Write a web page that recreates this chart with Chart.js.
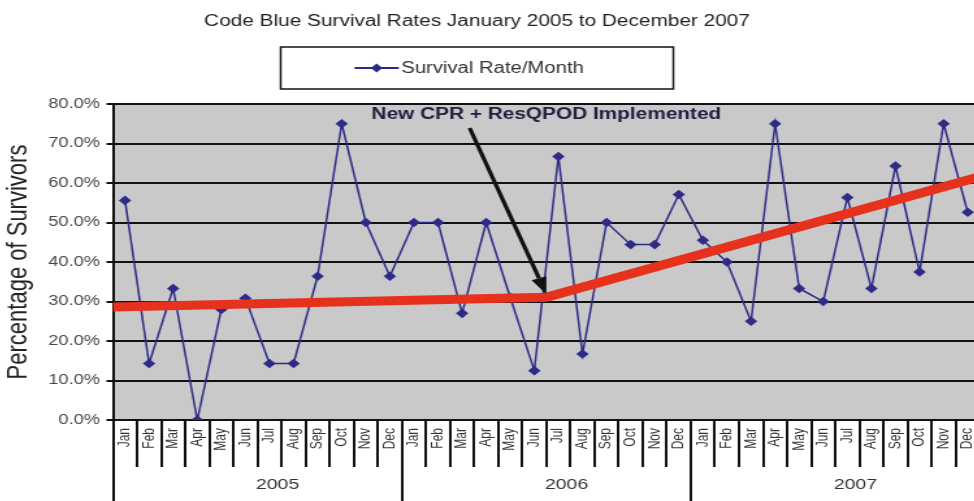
<!DOCTYPE html>
<html>
<head>
<meta charset="utf-8">
<title>Code Blue Survival Rates</title>
<script src="https://cdn.jsdelivr.net/npm/chart.js@4.4.1/dist/chart.umd.min.js"></script>
<style>
  html, body { margin: 0; padding: 0; background: #fff; overflow: hidden; }
  #wrap { position: relative; width: 974px; height: 501px; overflow: hidden; }
  #survivalChart { position: absolute; left: -32px; top: 0; }
</style>
</head>
<body>
<div id="wrap">
  <!-- drawing buffer is narrower than its box, so the chart is widened on screen -->
  <canvas id="survivalChart" width="783" height="501" style="width:1018px;height:501px"></canvas>
</div>
<script>
const monthNames = ['Jan', 'Feb', 'Mar', 'Apr', 'May', 'Jun', 'Jul', 'Aug', 'Sep', 'Oct', 'Nov', 'Dec'];
const years = ['2005', '2006', '2007'];

// monthly survival rate, %
const survival2005 = [55.6, 14.3, 33.3, 0.0, 28.0, 30.8, 14.3, 14.3, 36.4, 75.0, 50.0, 36.4];
const survival2006 = [50.0, 50.0, 27.0, 50.0, 31.0, 12.5, 66.7, 16.7, 50.0, 44.4, 44.4, 57.1];
const survival2007 = [45.5, 40.0, 25.0, 75.0, 33.3, 30.0, 56.3, 33.3, 64.3, 37.5, 75.0, 52.6];

// trend before / after the new protocol (x = month index)
const trendX = [-0.5, 17.5, 35.5];
const trendY = [28.6, 31.1, 61.6];

const yMin = 0, yMax = 80, yStep = 10;
const noteText = 'New CPR + ResQPOD Implemented';

const monthLabels = years.flatMap(() => monthNames);
const survival = [...survival2005, ...survival2006, ...survival2007];
const trend = trendX.map((x, i) => ({ x, y: trendY[i] }));

const NAVY = '#2e2b88';
const RED = '#e6321d';
const FONT = '"Liberation Sans", Arial, sans-serif';

Chart.defaults.font.family = FONT;

// grey plot background
const plotBackground = {
  id: 'plotBackground',
  beforeDraw(chart) {
    const { ctx, chartArea: a } = chart;
    ctx.save();
    ctx.fillStyle = '#c9c9c9';
    ctx.fillRect(a.left, a.top, a.right - a.left, a.bottom - a.top);
    ctx.restore();
  }
};

// boxed legend under the title
const legendBox = {
  id: 'legendBox',
  afterDraw(chart) {
    const ds = chart.data.datasets[0];
    const ctx = chart.ctx;
    const w = 302, h = 42, top = 47;
    const left = chart.width / 2 - w / 2;
    ctx.save();
    ctx.fillStyle = '#fff';
    ctx.fillRect(left, top, w, h);
    ctx.strokeStyle = '#111';
    ctx.lineWidth = 1.5;
    ctx.strokeRect(left, top, w, h);

    ctx.font = '15.6px ' + FONT;
    const textW = ctx.measureText(ds.label).width;
    const sample = 34, gap = 2;
    const x0 = chart.width / 2 - (sample + gap + textW) / 2 - 6;
    const cy = top + h / 2;
    ctx.strokeStyle = ds.borderColor;
    ctx.lineWidth = 2;
    ctx.beginPath();
    ctx.moveTo(x0, cy);
    ctx.lineTo(x0 + sample, cy);
    ctx.stroke();
    const mx = x0 + sample / 2, r = 4.5;
    ctx.fillStyle = ds.borderColor;
    ctx.beginPath();
    ctx.moveTo(mx, cy - r);
    ctx.lineTo(mx + r, cy);
    ctx.lineTo(mx, cy + r);
    ctx.lineTo(mx - r, cy);
    ctx.closePath();
    ctx.fill();
    ctx.fillStyle = '#333';
    ctx.textBaseline = 'middle';
    ctx.textAlign = 'left';
    ctx.fillText(ds.label, x0 + sample + gap, cy + 1);
    ctx.restore();
  }
};

// note + arrow pointing at the break in the trend line
const cprNote = {
  id: 'cprNote',
  afterDatasetsDraw(chart) {
    const { ctx, chartArea: a } = chart;
    const tipX = chart.scales.xTrend.getPixelForValue(trendX[1]);
    const tipY = chart.scales.y.getPixelForValue(trendY[1]) - 3;
    ctx.save();
    ctx.font = 'bold 16px ' + FONT;
    ctx.textAlign = 'center';
    ctx.textBaseline = 'middle';
    ctx.fillStyle = '#1d1f3f';
    ctx.fillText(noteText, tipX, a.top + 11);

    const sx = tipX - 59, sy = a.top + 24;
    const ang = Math.atan2(tipY - sy, tipX - sx);
    const head = 17, half = 6;
    const bx = tipX - head * Math.cos(ang), by = tipY - head * Math.sin(ang);
    ctx.strokeStyle = '#111';
    ctx.fillStyle = '#111';
    ctx.lineWidth = 3.2;
    ctx.beginPath();
    ctx.moveTo(sx, sy);
    ctx.lineTo(bx, by);
    ctx.stroke();
    ctx.beginPath();
    ctx.moveTo(tipX, tipY);
    ctx.lineTo(bx + half * Math.sin(ang), by - half * Math.cos(ang));
    ctx.lineTo(bx - half * Math.sin(ang), by + half * Math.cos(ang));
    ctx.closePath();
    ctx.fill();
    ctx.restore();
  }
};

new Chart(document.getElementById('survivalChart'), {
  type: 'line',
  data: {
    labels: monthLabels,
    datasets: [
      {
        label: 'Survival Rate/Month',
        data: survival,
        xAxisID: 'x',
        yAxisID: 'y',
        borderColor: NAVY,
        backgroundColor: NAVY,
        borderWidth: 1.5,
        pointStyle: 'rectRot',
        pointRadius: 4.8,
        pointBorderWidth: 0,
        tension: 0,
        order: 1
      },
      {
        label: 'Trend',
        data: trend,
        xAxisID: 'xTrend',
        yAxisID: 'y',
        borderColor: RED,
        borderWidth: 9,
        pointRadius: 0,
        tension: 0,
        order: 0
      }
    ]
  },
  options: {
    responsive: false,
    animation: false,
    layout: { padding: 0 },
    plugins: {
      legend: { display: false },
      tooltip: { enabled: false },
      title: {
        display: true,
        text: 'Code Blue Survival Rates January 2005 to December 2007',
        color: '#222',
        font: { size: 16, weight: 'normal' },
        padding: { top: 12.4, bottom: 72.4 }
      }
    },
    scales: {
      y: {
        min: yMin,
        max: yMax,
        ticks: {
          stepSize: yStep,
          callback: v => v.toFixed(1) + '%',
          color: '#474747',
          font: { size: 14 },
          padding: 5
        },
        grid: { color: '#111', lineWidth: 2, tickLength: 5 },
        border: { color: '#111', width: 2 },
        title: {
          display: true,
          text: 'Percentage of Survivors',
          color: '#222',
          font: { size: 22 },
          padding: { top: 25.3, bottom: 0 }
        },
        afterFit(scale) { scale.width = 111.5; }
      },
      x: {
        type: 'category',
        offset: true,
        weight: 0,
        grid: { offset: true, drawOnChartArea: false, tickLength: 47, color: '#111', lineWidth: 2 },
        border: { display: true, color: '#111', width: 2 },
        ticks: {
          autoSkip: false,
          minRotation: 90,
          maxRotation: 90,
          padding: -39,
          color: '#333',
          font: { size: 12 }
        },
        afterFit(scale) { scale.height = 47; }
      },
      x2: {
        type: 'category',
        labels: years,
        position: 'bottom',
        offset: true,
        weight: 1,
        grid: { offset: true, drawOnChartArea: false, tickLength: 34, color: '#111', lineWidth: 2 },
        border: { display: false },
        ticks: { padding: -25, labelOffset: 15.5, color: '#333', font: { size: 15 } },
        afterFit(scale) { scale.height = 34; }
      },
      xTrend: {
        type: 'linear',
        display: false,
        min: trendX[0],
        max: trendX[trendX.length - 1]
      }
    }
  },
  plugins: [plotBackground, legendBox, cprNote]
});
</script>
</body>
</html>
